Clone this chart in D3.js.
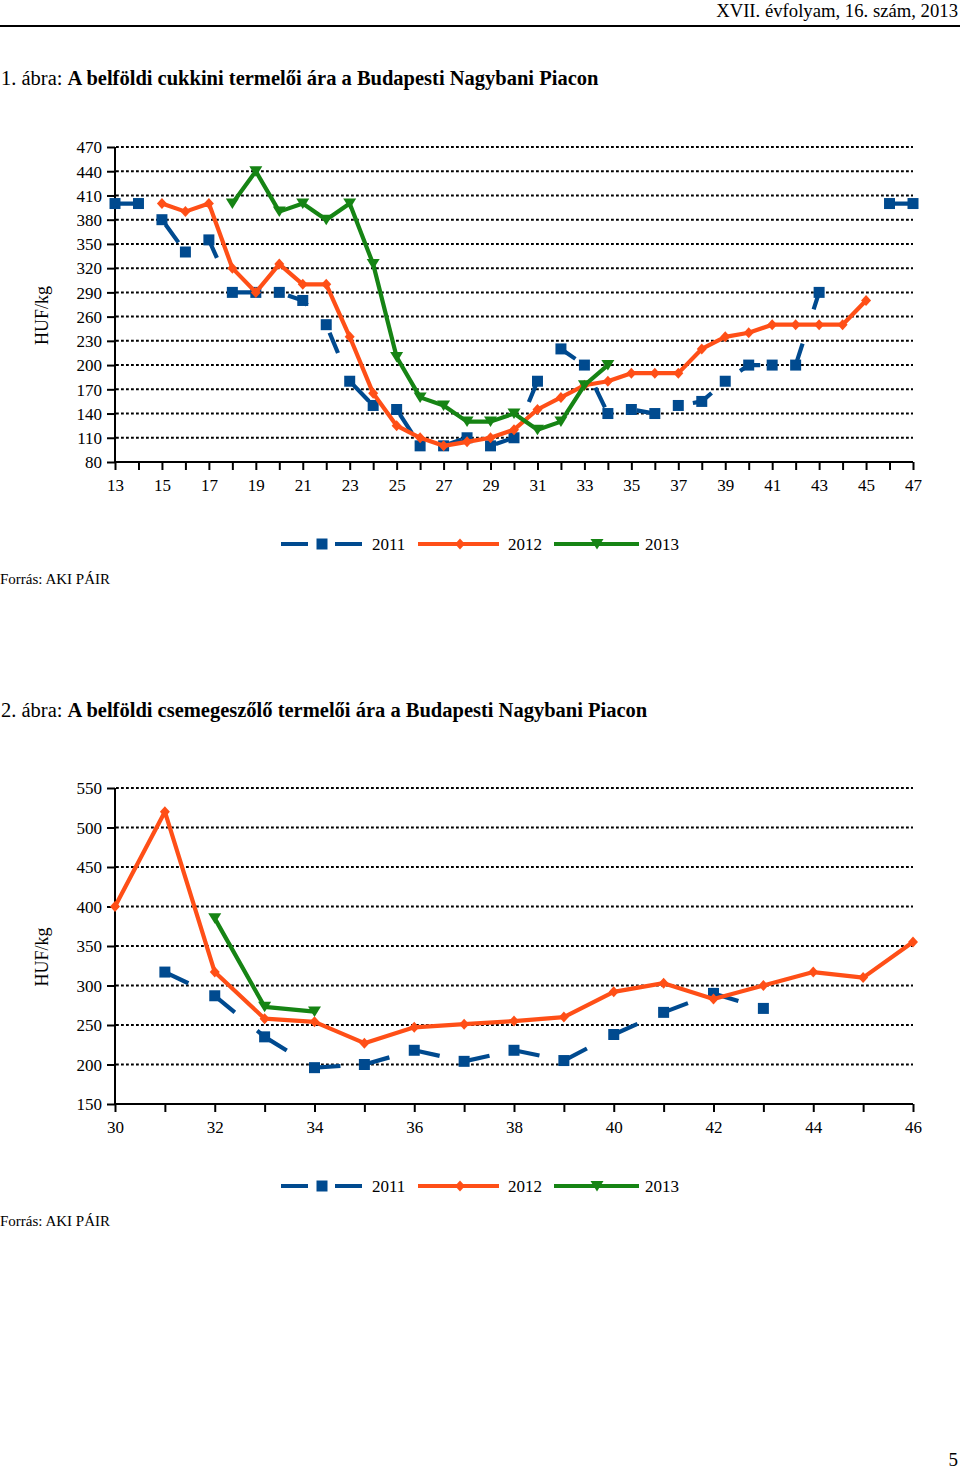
<!DOCTYPE html>
<html>
<head>
<meta charset="utf-8">
<script src="https://cdn.jsdelivr.net/npm/d3@7"></script>
<style>
  html, body { margin: 0; padding: 0; background: #fff; }
  svg { display: block; }
  text { font-family: "Liberation Serif", "Times New Roman", serif; fill: #000; }
</style>
</head>
<body>
<svg id="page" width="960" height="1469"></svg>
<script>
// ---------- DATA ----------
const seriesNames = ["2011", "2012", "2013"];

// Chart 1: cukkini (weeks 13..47)
const weeks1 = [13,14,15,16,17,18,19,20,21,22,23,24,25,26,27,28,29,30,31,32,33,34,35,36,37,38,39,40,41,42,43,44,45,46,47];
const cukkini2011 = [400,400,380,340,355,290,290,290,280,250,180,150,145,100,100,110,100,110,180,220,200,140,145,140,150,155,180,200,200,200,290,null,null,400,400];
const cukkini2012 = [null,null,400,390,400,320,290,325,300,300,235,165,125,110,100,105,110,120,145,160,175,180,190,190,190,220,235,240,250,250,250,250,280,null,null];
const cukkini2013 = [null,null,null,null,null,400,440,390,400,380,400,325,210,160,150,130,130,140,120,130,175,200,null,null,null,null,null,null,null,null,null,null,null,null,null];
const yTicks1 = [80,110,140,170,200,230,260,290,320,350,380,410,440,470];
const xLabels1 = [13,15,17,19,21,23,25,27,29,31,33,35,37,39,41,43,45,47];

// Chart 2: csemegeszőlő (weeks 30..46)
const weeks2 = [30,31,32,33,34,35,36,37,38,39,40,41,42,43,44,45,46];
const szolo2011 = [null,317,287,235,196,200,218,204,218,205,238,266,290,271,null,null,null];
const szolo2012 = [400,520,317,258,254,227,247,251,255,260,292,303,283,300,317,310,355];
const szolo2013 = [null,null,385,273,267,null,null,null,null,null,null,null,null,null,null,null,null];
const yTicks2 = [150,200,250,300,350,400,450,500,550];
const xLabels2 = [30,32,34,36,38,40,42,44,46];

// ---------- STYLE ----------
const colors = { "2011": "#004a8f", "2012": "#ff4f17", "2013": "#168414" };
const svg = d3.select("#page");

// Header
svg.append("text").attr("x", 958).attr("y", 17).attr("text-anchor", "end")
  .style("font-size", "18.7px").text("XVII. évfolyam, 16. szám, 2013");
svg.append("line").attr("x1", 0).attr("x2", 960).attr("y1", 26).attr("y2", 26)
  .attr("stroke", "#000").attr("stroke-width", 2);

// Page number
svg.append("text").attr("x", 958).attr("y", 1466).attr("text-anchor", "end")
  .style("font-size", "19px").text("5");

function title(y, num, rest) {
  const t = svg.append("text").attr("x", 1).attr("y", y).style("font-size", "20.5px");
  t.append("tspan").text(num + " ábra: ");
  t.append("tspan").style("font-weight", "bold").text(rest);
}

function markerPath(kind) {
  if (kind === "square") return "M-5.5,-5.5H5.5V5.5H-5.5Z";
  if (kind === "diamond") return "M0,-5.5L5,0L0,5.5L-5,0Z";
  return "M-6.5,-5L6.5,-5L0,5.5Z";
}
const markerKinds = { "2011": "square", "2012": "diamond", "2013": "triangle" };

function drawChart(cfg) {
  const g = svg.append("g");
  const x = d3.scaleLinear().domain(cfg.xDomain).range([115, 913]);
  const y = d3.scaleLinear().domain(cfg.yDomain).range([cfg.bottom, cfg.top]);

  // dotted grid
  g.append("g").selectAll("line").data(cfg.yTicks.slice(1)).join("line")
    .attr("x1", 116).attr("x2", 913)
    .attr("y1", d => y(d)).attr("y2", d => y(d))
    .attr("stroke", "#000").attr("stroke-width", 2).attr("stroke-dasharray", "2.8,2.2");

  // y axis
  const ya = g.append("g").attr("transform", "translate(115,0)")
    .call(d3.axisLeft(y).tickValues(cfg.yTicks).tickSize(8).tickPadding(5).tickFormat(d3.format("d")));
  ya.select(".domain").attr("stroke", "#000").attr("stroke-width", 2).attr("d", `M0,${cfg.top}V${cfg.bottom}`);
  ya.selectAll(".tick line").attr("stroke", "#000").attr("stroke-width", 2);
  ya.selectAll(".tick text").style("font-size", "17px").style("font-family", "Liberation Serif").attr("dy", "0.34em");

  // x axis
  const xa = g.append("g").attr("transform", `translate(0,${cfg.bottom})`)
    .call(d3.axisBottom(x).tickValues(cfg.weeks).tickSize(8).tickPadding(9)
      .tickFormat(d => cfg.xLabels.includes(d) ? d : ""));
  xa.select(".domain").attr("stroke", "#000").attr("stroke-width", 2).attr("d", `M115,0H913`);
  xa.selectAll(".tick line").attr("stroke", "#000").attr("stroke-width", 2);
  xa.selectAll(".tick text").style("font-size", "17px").style("font-family", "Liberation Serif");

  // y label
  g.append("text").attr("transform", `translate(48,${(cfg.top + cfg.bottom) / 2 + 11}) rotate(-90)`)
    .attr("text-anchor", "middle").style("font-size", "18px").text("HUF/kg");

  // series
  const line = d3.line().defined(d => d.v != null).x(d => x(d.w)).y(d => y(d.v));
  cfg.series.forEach(s => {
    const pts = cfg.weeks.map((w, i) => ({ w, v: s.values[i] }));
    if (s.name === "2011") {
      if (cfg.perSegment) {
        for (let i = 0; i < pts.length - 1; i++) {
          if (pts[i].v == null || pts[i + 1].v == null) continue;
          g.append("path").attr("d", line([pts[i], pts[i + 1]])).attr("fill", "none")
            .attr("stroke", colors[s.name]).attr("stroke-width", 4.2)
            .attr("stroke-dasharray", cfg.dash);
        }
      } else {
        g.append("path").attr("d", line(pts)).attr("fill", "none")
          .attr("stroke", colors[s.name]).attr("stroke-width", 4.2)
          .attr("stroke-dasharray", cfg.dash);
      }
    } else {
      g.append("path").attr("d", line(pts)).attr("fill", "none")
        .attr("stroke", colors[s.name]).attr("stroke-width", 4.2)
        .attr("stroke-linejoin", "round");
    }
    g.append("g").selectAll("path").data(pts.filter(d => d.v != null)).join("path")
      .attr("transform", d => `translate(${x(d.w)},${y(d.v)})`)
      .attr("d", markerPath(markerKinds[s.name]))
      .attr("fill", colors[s.name]);
  });

  // legend
  const ly = cfg.legendY;
  const lg = g.append("g");
  lg.append("line").attr("x1", 281).attr("x2", 362).attr("y1", ly).attr("y2", ly)
    .attr("stroke", colors["2011"]).attr("stroke-width", 4.2).attr("stroke-dasharray", "27,27");
  lg.append("path").attr("transform", `translate(322,${ly})`).attr("d", markerPath("square")).attr("fill", colors["2011"]);
  lg.append("text").attr("x", 372).attr("y", ly + 6).style("font-size", "17px").text(seriesNames[0]);
  lg.append("line").attr("x1", 418).attr("x2", 499).attr("y1", ly).attr("y2", ly)
    .attr("stroke", colors["2012"]).attr("stroke-width", 4.2);
  lg.append("path").attr("transform", `translate(460,${ly})`).attr("d", markerPath("diamond")).attr("fill", colors["2012"]);
  lg.append("text").attr("x", 508).attr("y", ly + 6).style("font-size", "17px").text(seriesNames[1]);
  lg.append("line").attr("x1", 554).attr("x2", 639).attr("y1", ly).attr("y2", ly)
    .attr("stroke", colors["2013"]).attr("stroke-width", 4.2);
  lg.append("path").attr("transform", `translate(597,${ly})`).attr("d", markerPath("triangle")).attr("fill", colors["2013"]);
  lg.append("text").attr("x", 645).attr("y", ly + 6).style("font-size", "17px").text(seriesNames[2]);

  // source
  svg.append("text").attr("x", 0).attr("y", cfg.sourceY).style("font-size", "15px").text("Forrás: AKI PÁIR");
}

title(85, "1.", "A belföldi cukkini termelői ára a Budapesti Nagybani Piacon");
drawChart({
  xDomain: [13, 47], yDomain: [80, 470], top: 147, bottom: 462,
  weeks: weeks1, xLabels: xLabels1, yTicks: yTicks1,
  series: [
    { name: "2011", values: cukkini2011 },
    { name: "2012", values: cukkini2012 },
    { name: "2013", values: cukkini2013 }
  ],
  dash: "22,36", perSegment: false,
  legendY: 544, sourceY: 584
});

title(717, "2.", "A belföldi csemegeszőlő termelői ára a Budapesti Nagybani Piacon");
drawChart({
  xDomain: [30, 46], yDomain: [150, 550], top: 788, bottom: 1104,
  weeks: weeks2, xLabels: xLabels2, yTicks: yTicks2,
  series: [
    { name: "2011", values: szolo2011 },
    { name: "2012", values: szolo2012 },
    { name: "2013", values: szolo2013 }
  ],
  dash: "26,29", perSegment: true,
  legendY: 1186, sourceY: 1226
});
</script>
</body>
</html>
